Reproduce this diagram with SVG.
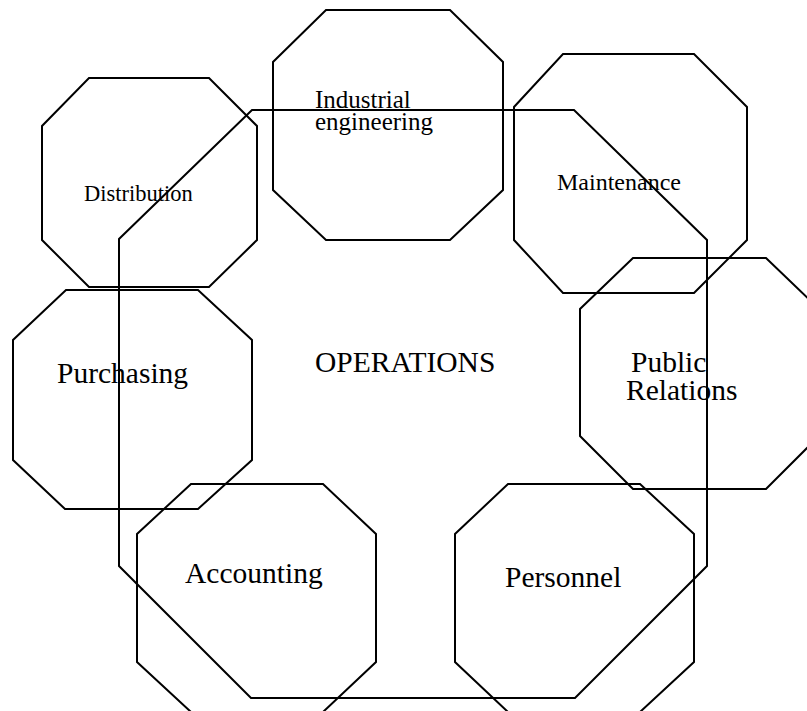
<svg xmlns="http://www.w3.org/2000/svg" width="807" height="711" viewBox="0 0 807 711">
<style>
.oct{fill:none;stroke:#000;stroke-width:2;stroke-linejoin:miter}
.t{font-family:"Liberation Serif","Times New Roman",serif;fill:#000}
.big{font-size:29.5px}
.sm{font-size:24px}
</style>
<rect x="0" y="0" width="807" height="711" fill="#fff"/>
<g id="operations">
<polygon class="oct" points="252,110 574,110 707,240 707,566 575,698 251,698 119,566 119,239"/>
<text class="t big" x="315" y="372">OPERATIONS</text>
</g>
<g id="distribution">
<polygon class="oct" points="89,78 209,78 257,126 257,240 209,287 89,287 42,240 42,126"/>
<text class="t" font-size="22.5" x="84" y="201">Distribution</text>
</g>
<g id="industrial">
<polygon class="oct" points="326,10 450,10 503,62 503,190 450,240 326,240 273,190 273,62"/>
<text class="t" font-size="25" x="315" y="108">Industrial</text>
<text class="t" font-size="25" x="315" y="130">engineering</text>
</g>
<g id="maintenance">
<polygon class="oct" points="563,54 694,54 747,107 747,240 694,293 563,293 514,240 514,107"/>
<text class="t sm" x="557" y="190">Maintenance</text>
</g>
<g id="purchasing">
<polygon class="oct" points="66,290 198,290 252,340 252,460 198,509 65,509 13,460 13,340"/>
<text class="t big" x="57" y="383">Purchasing</text>
</g>
<g id="public-relations">
<polygon class="oct" points="633,258 766,258 819,309 819,436 766,489 633,489 580,436 580,309"/>
<text class="t big" x="631" y="372">Public</text>
<text class="t big" x="626" y="400">Relations</text>
</g>
<g id="accounting">
<polygon class="oct" points="191,484 323,484 376,534 376,662 323,712 191,712 137,662 137,534"/>
<text class="t big" x="185" y="583">Accounting</text>
</g>
<g id="personnel">
<polygon class="oct" points="508,484 640,484 694,534 694,662 640,712 508,712 455,662 455,534"/>
<text class="t big" x="505" y="587">Personnel</text>
</g>
<g id="connectors"></g>
</svg>
